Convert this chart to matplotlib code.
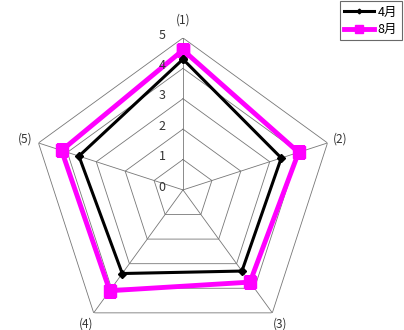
import matplotlib
matplotlib.use('Agg')
import matplotlib.pyplot as plt
import numpy as np

plt.rcParams['font.family'] = ['Noto Sans CJK JP', 'DejaVu Sans']

categories = ['(1)', '(2)', '(3)', '(4)', '(5)']
apr = [4.3, 3.4, 3.3, 3.4, 3.6]
aug = [4.6, 4.0, 3.75, 4.1, 4.2]
series_names = ['4月', '8月']
r_ticks = [0, 1, 2, 3, 4, 5]

n = len(categories)
theta = np.linspace(0, 2 * np.pi, n, endpoint=False)
theta_c = np.append(theta, theta[0])

fig = plt.figure(figsize=(4.04, 3.30), dpi=100)
ax = fig.add_axes([0.0767, -0.036, 0.7525, 0.921], projection='polar')
ax.set_theta_offset(np.pi / 2)
ax.set_theta_direction(-1)
ax.set_ylim(0, 5)
ax.grid(False)
ax.spines['polar'].set_visible(False)
ax.set_yticks([])
ax.set_xticks([])

# pentagon grid
for r in r_ticks[1:]:
    ax.plot(theta_c, [r] * (n + 1), color='#777777', lw=0.6, zorder=1)
for t in theta:
    ax.plot([t, t], [0, 5], color='#777777', lw=0.6, zorder=1)

# category labels
for i, (t, lab) in enumerate(zip(theta, categories)):
    rr = 5.6 if i == 0 else 5.45
    ax.text(t, rr, lab, ha='center', va='center', fontsize=8.5,
            color='#333333', clip_on=False)

# radial labels
for r in r_ticks:
    ax.annotate(str(r), xy=(0, r), xytext=(-15, 2), textcoords='offset points',
                ha='center', va='center', fontsize=9, color='#333333')

ax.plot(theta_c, apr + apr[:1], color='black', lw=2.2, marker='D', ms=4,
        label=series_names[0], zorder=3)
ax.plot(theta_c, aug + aug[:1], color='#ff00ff', lw=3.5, marker='s', ms=9,
        label=series_names[1], zorder=2)

leg = fig.legend(loc='upper right', bbox_to_anchor=(0.997, 1.0), fontsize=9,
                 frameon=True, fancybox=False, handlelength=2.4,
                 borderpad=0.35, labelspacing=0.35, handletextpad=0.3,
                 markerscale=0.6, borderaxespad=0.1)
leg.get_frame().set_edgecolor('#444444')
leg.get_frame().set_linewidth(0.8)

fig.savefig('out.png', dpi=100)
